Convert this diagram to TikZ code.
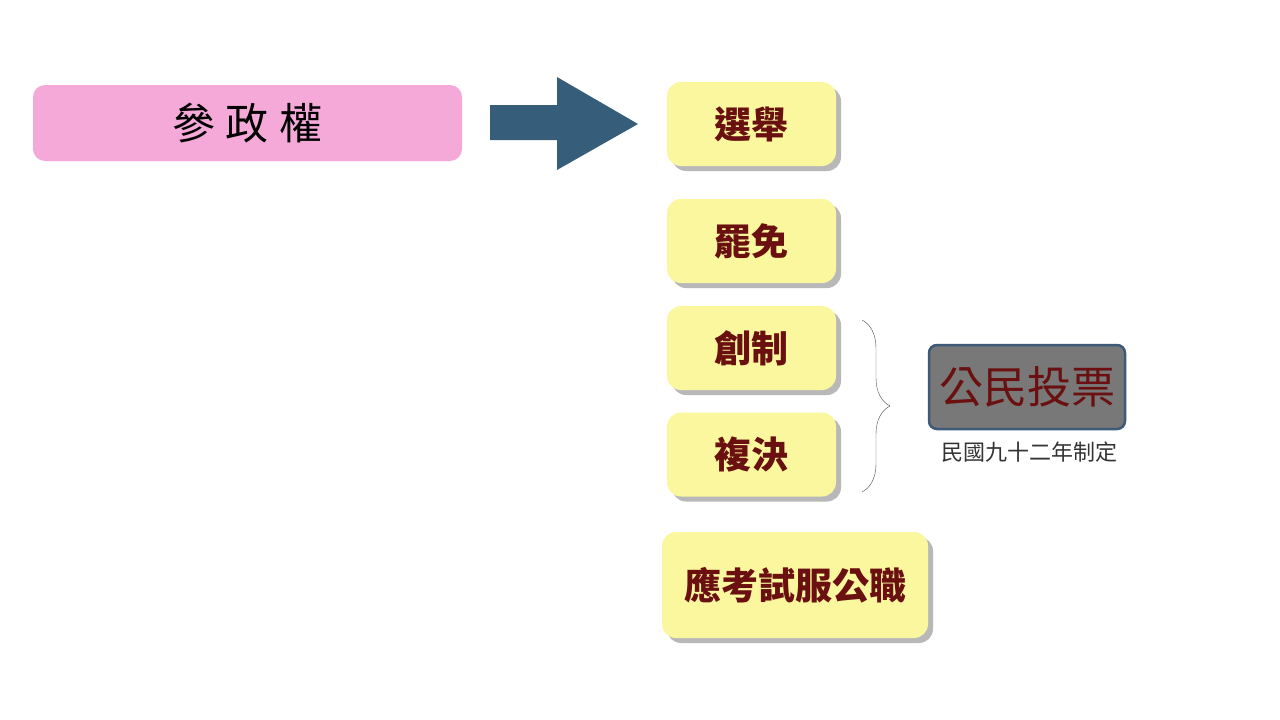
\documentclass[tikz,border=0pt]{standalone}
\usepackage{fontspec}
\setmainfont{Noto Sans CJK TC}
\usetikzlibrary{shadows,decorations.pathreplacing}
\definecolor{pinkfill}{HTML}{F4A9D8}
\definecolor{yellowfill}{HTML}{FBF79E}
\definecolor{darkred}{HTML}{6A1010}
\definecolor{arrowblue}{HTML}{365D7A}
\definecolor{votegray}{HTML}{787878}
\definecolor{voteedge}{HTML}{3E5A78}

\begin{document}
\begin{tikzpicture}[x=1pt,y=-1pt,
	rightbox/.style={fill=yellowfill, rounded corners=14pt, minimum width=169pt, minimum height=84pt,
		text=darkred, font=\fontsize{37}{37}\selectfont\bfseries,
		drop shadow={shadow xshift=5pt, shadow yshift=-5pt, fill=black, opacity=0.28}}]
	\useasboundingbox (0,0) rectangle (1280,720);
	%left box
	\node[fill=pinkfill, rounded corners=12pt, minimum width=429pt, minimum height=76pt,
		font=\fontsize{43}{43}\selectfont] (canzheng) at (247.5,123) {參\hspace{11pt}政\hspace{11pt}權};
	%arrow
	\fill[arrowblue] (490,105) -- (557,105) -- (557,77) -- (638,124) -- (557,170) -- (557,140) -- (490,140) -- cycle;
	%right boxes
	\foreach \y/\name/\txt in {124/xuanju/選舉, 241/bamian/罷免, 348/chuangzhi/創制, 454.5/fujue/複決}
		\node[rightbox] (\name) at (751.5,\y) {\txt};
	\node[rightbox, minimum width=266pt, minimum height=106pt] (yingkao) at (795,585) {應考試服公職};
	%brace
	\coordinate (bracetop) at (862,320);
	\coordinate (bracebot) at (862,492);
	\draw[black!70, thin, decorate, decoration={brace, amplitude=28pt}] (bracetop) -- (bracebot);
	%referendum
	\node[fill=votegray, draw=voteedge, line width=2.5pt, rounded corners=8pt, minimum width=196pt, minimum height=84pt,
		text=darkred, font=\fontsize{44}{44}\selectfont] (toupiao) at (1027,387) {公民投票};
	\node[text=black!80, font=\fontsize{22}{22}\selectfont] (zhiding) at (1029,452) {民國九十二年制定};
\end{tikzpicture}
\end{document}
